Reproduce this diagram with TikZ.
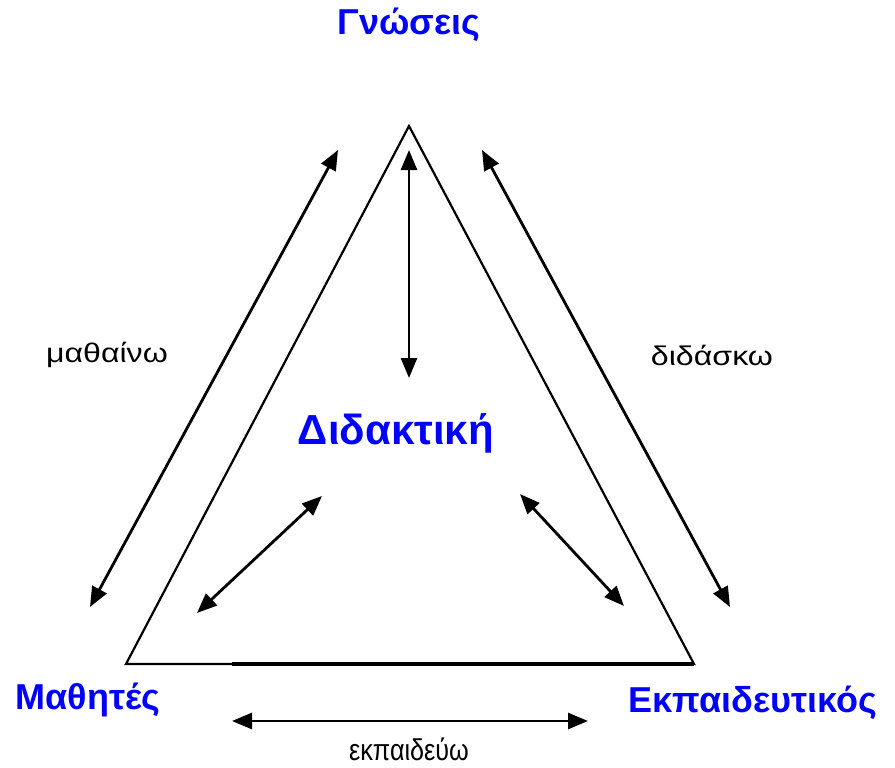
\documentclass[tikz,border=0pt]{standalone}
\usepackage{fontspec}
\setmainfont{Liberation Sans}
\usetikzlibrary{arrows.meta,positioning}
\definecolor{cornerblue}{HTML}{0000FF}
\tikzset{
  corner/.style={font=\fontsize{36}{40}\selectfont\bfseries, text=cornerblue, inner sep=0pt},
  verb/.style={font=\fontsize{27}{31}\selectfont, inner sep=0pt},
  side/.style={line width=2.2pt},
  dblarr/.style={{Triangle[length=20pt,width=16pt]}-{Triangle[length=20pt,width=16pt]}, line width=2.8pt}
}
\begin{document}
\begin{tikzpicture}[x=1pt,y=-1pt]
        \useasboundingbox (0,0) rectangle (895,768);
        % triangle
        \coordinate (top) at (409,126);
        \coordinate (left) at (126,664);
        \coordinate (right) at (694,664);
        \coordinate (seam) at (232,664);
        \draw[side, line join=miter] (top) -- (left) -- (right) -- cycle;
        \draw[line width=3.2pt] (seam) -- (right);
        % labels
        \node[corner] (gnosi) at (409,25) {Γνώσεις};
        \node[corner, font=\fontsize{42}{46}\selectfont\bfseries] (didakt) at (396,433) {Διδακτική};
        \node[corner] (mathit) at (88,700) {Μαθητές};
        \node[corner] (ekp) at (753,703) {Εκπαιδευτικός};
        \node[verb] (mathaino) at (107,355) {\scalebox{1.19}[1]{μαθαίνω}};
        \node[verb] (didasko) at (712,355) {\scalebox{1.19}[1]{διδάσκω}};
        \node[verb, font=\fontsize{30}{34}\selectfont] (ekpaid) at (409,749) {\scalebox{0.84}[1]{εκπαιδεύω}};
        % arrow ends
        \coordinate (l1) at (90,607);   \coordinate (l2) at (338,150);
        \coordinate (r1) at (482,150);  \coordinate (r2) at (730,607);
        \coordinate (v1) at (409,150);  \coordinate (v2) at (409,378);
        \coordinate (il1) at (197,613); \coordinate (il2) at (322,496);
        \coordinate (ir1) at (520,494); \coordinate (ir2) at (624,606);
        \coordinate (b1) at (232,721);  \coordinate (b2) at (588,721);
        \draw[dblarr] (l1) -- (l2);
        \draw[dblarr] (r1) -- (r2);
        \draw[dblarr] (v1) -- (v2);
        \draw[dblarr] (il1) -- (il2);
        \draw[dblarr] (ir1) -- (ir2);
        \draw[dblarr] (b1) -- (b2);
      \end{tikzpicture}
\end{document}
